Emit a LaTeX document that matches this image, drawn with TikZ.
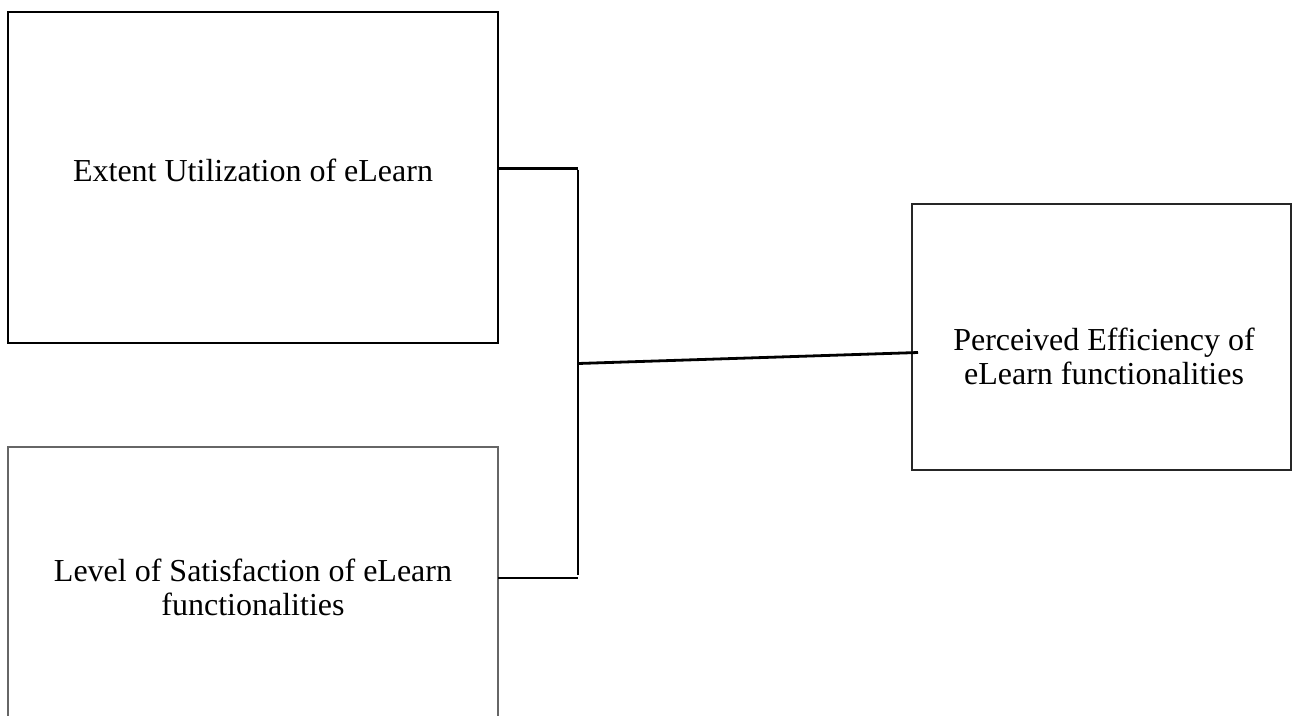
\documentclass[tikz,border=0pt]{standalone}
\usepackage{fontspec}
\setmainfont{Liberation Serif}
\begin{document}
\begin{tikzpicture}[x=1pt,y=-1pt,
  box/.style={draw=black,line width=1.6pt,inner sep=0pt},
  lbl/.style={align=center,font=\fontsize{32}{34}\selectfont},
  conn/.style={line width=2.8pt,black}]
\useasboundingbox (0,0) rectangle (1306,715);
\clip (0,0) rectangle (1306,715);
% boxes
\node[box,line width=2.6pt,minimum width=490pt,minimum height=331pt] (a) at (253,177.5) {};
\node[lbl] (at) at (253,170) {Extent Utilization of eLearn};
\node[inner sep=0pt,minimum width=490pt,minimum height=290pt] (b) at (253,592) {};
\draw[draw=black!60,line width=1.6pt] (b.south west) -- (b.north west) -- (b.north east) -- (b.south east);
\node[lbl] (bt) at (253,587) {Level of Satisfaction of eLearn\\functionalities};
\node[box,draw=black!85,minimum width=379pt,minimum height=266pt] (c) at (1101.5,337) {};
\node[lbl] (ct) at (1104,356) {Perceived Efficiency of\\eLearn functionalities};
% connectors
\coordinate (j1) at (578,168.5);
\coordinate (j2) at (578,578);
\coordinate (jm) at (578,363.5);
\coordinate (ce) at (918,352.5);
\draw[conn] (a.east |- j1) -- (j1);
\draw[conn] (b.east |- j2) -- (j2);
\draw[conn] ([yshift=-1pt]j1) -- ([yshift=3pt]j2);
\draw[conn] (jm) -- (ce);
\end{tikzpicture}
\end{document}
